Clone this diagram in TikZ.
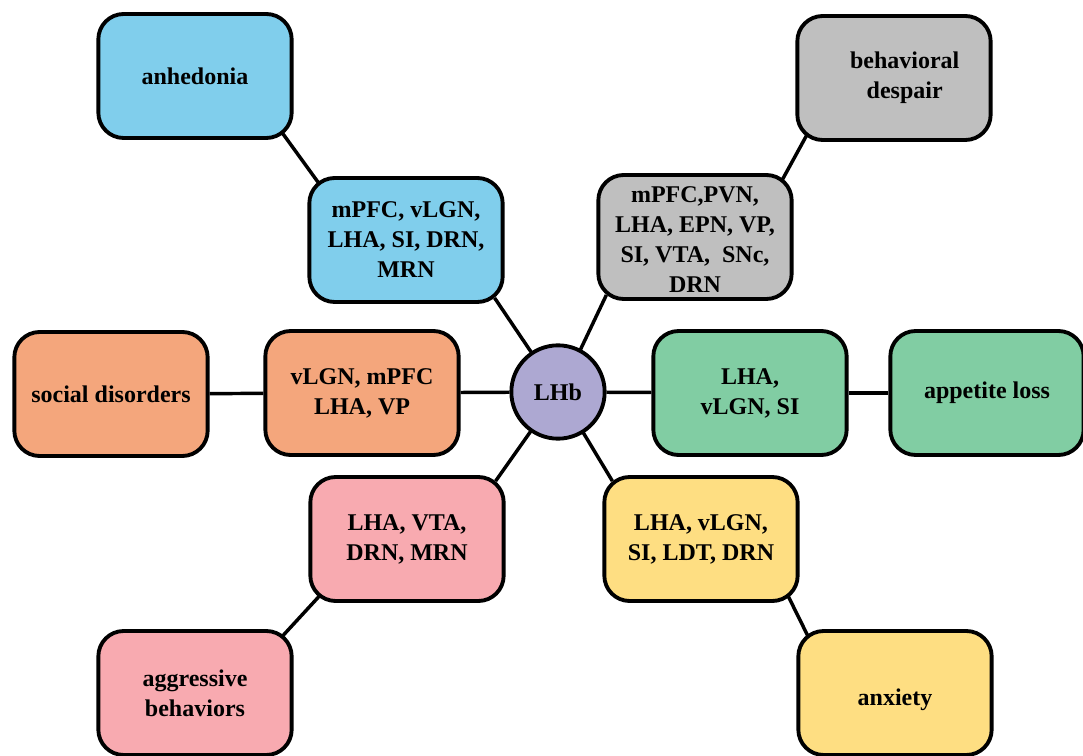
\documentclass[tikz,border=0pt]{standalone}
\usepackage{fontspec}
\setmainfont{Liberation Serif}
\usetikzlibrary{positioning, calc, backgrounds}
\definecolor{blue1}{RGB}{128,206,236}
\definecolor{gray1}{RGB}{191,191,191}
\definecolor{orange1}{RGB}{244,166,124}
\definecolor{green1}{RGB}{129,205,163}
\definecolor{rose1}{RGB}{248,170,176}
\definecolor{yellow1}{RGB}{254,222,130}
\definecolor{purple1}{RGB}{173,168,210}

\begin{document}
\begin{tikzpicture}[
    x=0.75pt, y=-0.75pt,
    every node/.style={anchor=center},
    region/.style={rectangle, draw=black, line width=2.9pt, rounded corners=19pt, fill=#1,
      minimum width=145pt, minimum height=93pt, align=center, inner sep=2pt,
      font=\fontsize{18}{22.5}\selectfont\bfseries},
    hub/.style={circle, draw=black, line width=2.9pt, fill=purple1, minimum size=70pt,
      inner sep=0pt, font=\fontsize{18}{22.5}\selectfont\bfseries},
    link/.style={line width=2.6pt, black}
]
\useasboundingbox (0,0) rectangle (1083,756);

% Central hub
\node[hub] (lhb) at (558,392) {LHb};

% Inner ring of regions
\node[region=blue1]   (anhIn)  at (406,240) {mPFC, vLGN,\\LHA, SI, DRN,\\MRN};
\node[region=gray1]   (despIn) at (695,237) {\rule{0pt}{16pt}mPFC,PVN,\\LHA, EPN, VP,\\SI, VTA,\ \ SNc,\\DRN};
\node[region=orange1] (socIn)  at (362,393) {vLGN, mPFC\\LHA, VP};
\node[region=green1]  (appIn)  at (750,393) {LHA,\\vLGN, SI};
\node[region=rose1]   (aggIn)  at (407,539) {LHA, VTA,\\DRN, MRN};
\node[region=yellow1] (anxIn)  at (701,539) {LHA, vLGN,\\SI, LDT, DRN};

% Outer ring of behaviours
\node[region=blue1]   (anh)  at (195,76)  {anhedonia};
\node[region=gray1]   (desp) at (894,78)  {\hspace*{16pt}behavioral\\\hspace*{16pt}despair};
\node[region=orange1] (soc)  at (111,394) {social disorders};
\node[region=green1]  (app)  at (987,393) {appetite loss};
\node[region=rose1]   (agg)  at (195,693) {aggressive\\behaviors};
\node[region=yellow1] (anx)  at (895,693) {\rule{0pt}{22pt}anxiety};

% Connectors behind the boxes
\begin{scope}[on background layer]
\draw[link] ($(anhIn.south east)+(-10,-6)$) -- ($(lhb.center)+(-8,-12)$);
\draw[link] ($(despIn.south west)+(10,-6)$) -- ($(lhb.center)+(8,-12)$);
\draw[link] ($(aggIn.north east)+(-10,6)$) -- ($(lhb.center)+(-8,12)$);
\draw[link] ($(anxIn.north west)+(10,6)$) -- ($(lhb.center)+(8,12)$);
\draw[link] (socIn) -- (lhb);
\draw[link] (lhb) -- (appIn);
\draw[link] (soc) -- (socIn);
\draw[link] (appIn) -- (app);
\draw[link] ($(anh.south east)+(-12,-8)$) -- ($(anhIn.north west)+(12,8)$);
\draw[link] ($(desp.south west)+(12,-8)$) -- ($(despIn.north east)+(-12,8)$);
\draw[link] ($(agg.north east)+(-12,8)$) -- ($(aggIn.south west)+(12,-8)$);
\draw[link] ($(anx.north west)+(12,8)$) -- ($(anxIn.south east)+(-12,-8)$);
\end{scope}
\end{tikzpicture}
\end{document}
